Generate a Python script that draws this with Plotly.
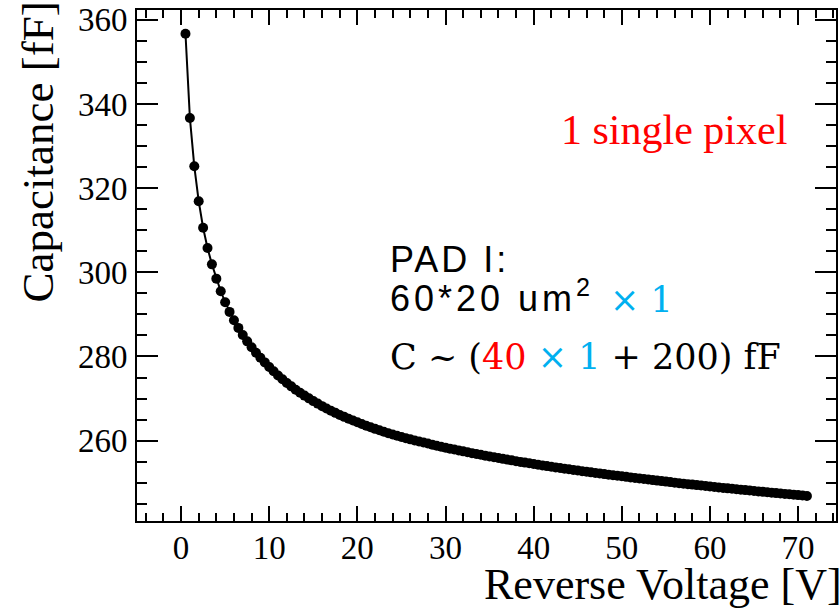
import plotly.graph_objects as go

# Reverse voltage [V] (measurement points)
voltage = [
    0.5, 1.0, 1.5, 2.0, 2.5, 3.0, 3.5, 4.0, 4.5, 5.0, 5.5, 6.0, 6.5, 7.0, 7.5, 8.0,
    8.5, 9.0, 9.5, 10.0, 10.5, 11.0, 11.5, 12.0, 12.5, 13.0, 13.5, 14.0, 14.5, 15.0,
    15.5, 16.0, 16.5, 17.0, 17.5, 18.0, 18.5, 19.0, 19.5, 20.0, 20.5, 21.0, 21.5, 22.0,
    22.5, 23.0, 23.5, 24.0, 24.5, 25.0, 25.5, 26.0, 26.5, 27.0, 27.5, 28.0, 28.5, 29.0,
    29.5, 30.0, 30.5, 31.0, 31.5, 32.0, 32.5, 33.0, 33.5, 34.0, 34.5, 35.0, 35.5, 36.0,
    36.5, 37.0, 37.5, 38.0, 38.5, 39.0, 39.5, 40.0, 40.5, 41.0, 41.5, 42.0, 42.5, 43.0,
    43.5, 44.0, 44.5, 45.0, 45.5, 46.0, 46.5, 47.0, 47.5, 48.0, 48.5, 49.0, 49.5, 50.0,
    50.5, 51.0, 51.5, 52.0, 52.5, 53.0, 53.5, 54.0, 54.5, 55.0, 55.5, 56.0, 56.5, 57.0,
    57.5, 58.0, 58.5, 59.0, 59.5, 60.0, 60.5, 61.0, 61.5, 62.0, 62.5, 63.0, 63.5, 64.0,
    64.5, 65.0, 65.5, 66.0, 66.5, 67.0, 67.5, 68.0, 68.5, 69.0, 69.5, 70.0, 70.5, 71.0,
]

# Capacitance [fF]
capacitance = [
    356.7, 336.7, 325.2, 316.9, 310.6, 305.8, 301.9, 298.5, 295.5, 292.9, 290.6, 288.6,
    286.8, 285.1, 283.6, 282.2, 280.9, 279.7, 278.6, 277.5, 276.5, 275.5, 274.6, 273.7,
    272.9, 272.1, 271.4, 270.7, 270.05, 269.4, 268.8, 268.2, 267.65, 267.1, 266.6, 266.1,
    265.65, 265.2, 264.77, 264.35, 263.95, 263.55, 263.17, 262.8, 262.45, 262.1, 261.77,
    261.45, 261.15, 260.85, 260.57, 260.3, 260.05, 259.8, 259.55, 259.3, 259.05, 258.8,
    258.56, 258.33, 258.1, 257.88, 257.66, 257.45, 257.24, 257.03, 256.83, 256.63, 256.43,
    256.24, 256.05, 255.86, 255.67, 255.49, 255.31, 255.13, 254.95, 254.78, 254.61, 254.44,
    254.27, 254.11, 253.95, 253.79, 253.63, 253.48, 253.33, 253.18, 253.03, 252.89, 252.74,
    252.6, 252.46, 252.32, 252.18, 252.05, 251.91, 251.78, 251.65, 251.52, 251.39, 251.26,
    251.13, 251.0, 250.87, 250.75, 250.62, 250.5, 250.38, 250.26, 250.14, 250.02, 249.9,
    249.78, 249.66, 249.55, 249.43, 249.32, 249.21, 249.1, 248.99, 248.88, 248.77, 248.66,
    248.55, 248.45, 248.34, 248.24, 248.13, 248.03, 247.93, 247.83, 247.73, 247.63, 247.53,
    247.43, 247.33, 247.24, 247.14, 247.05, 246.95, 246.86,
]

x_ticks = [0, 10, 20, 30, 40, 50, 60, 70]
y_ticks = [260, 280, 300, 320, 340, 360]

x_title = "Reverse Voltage [V]"
y_title = "Capacitance [fF]"
label_pixel = "1 single pixel"
label_pad = "<span style='letter-spacing:3px'>PAD I:</span>"
label_area = "<span style='letter-spacing:4px'>60*20 um</span><sup>2</sup>"
label_mult = "× 1"
label_formula = ("C ~ (<span style='color:#FF0000'>40</span> "
                 "<span style='color:#00B0F0'>× 1</span> + 200) fF")

W, H = 840, 611
ML, MR, MT, MB = 137, 2, 7, 90

serif = "Liberation Serif, Times New Roman, serif"
sans = "Liberation Sans, Arial, sans-serif"
math = "DejaVu Serif, serif"

fig = go.Figure()
fig.add_trace(go.Scatter(
    x=voltage, y=capacitance, mode="lines+markers",
    line=dict(color="black", width=2),
    marker=dict(color="black", size=10),
    showlegend=False,
))

axis_common = dict(
    showline=True, linecolor="black", linewidth=2, mirror="allticks",
    ticks="inside", tickcolor="black", tickwidth=2,
    showgrid=False, zeroline=False, ticklabeloverflow="allow",
    tickfont=dict(family=serif, size=33, color="black"),
)

fig.update_xaxes(
    range=[-5, 74.3], tickvals=x_ticks, ticklen=15,
    minor=dict(ticks="inside", ticklen=8, dtick=2, tickcolor="black", tickwidth=2, showgrid=False),
    ticklabelstandoff=-4,
    **axis_common,
)
fig.update_yaxes(
    range=[240.9, 362.35], tickvals=y_ticks, ticklen=21,
    minor=dict(ticks="inside", ticklen=10, dtick=5, tickcolor="black", tickwidth=2, showgrid=False),
    ticklabelstandoff=1,
    **axis_common,
)

# annotation positions given in screen pixels, converted to paper coordinates
annots = [
    dict(text=x_title, x=665, y=585, font=dict(family=serif, size=44, color="black"),
         xanchor="center", yanchor="middle"),
    dict(text=y_title, x=38, y=150, textangle=-90,
         font=dict(family=serif, size=45, color="black"), xanchor="center", yanchor="middle"),
    dict(text=label_pixel, x=676, y=128, font=dict(family=serif, size=42, color="#FF0000"),
         xanchor="center", yanchor="middle"),
    dict(text=label_pad, x=389, y=258, font=dict(family=sans, size=36, color="black"),
         xanchor="left", yanchor="middle"),
    dict(text=label_area, x=389, y=295, font=dict(family=sans, size=36, color="black"),
         xanchor="left", yanchor="middle"),
    dict(text=label_mult, x=609, y=299, font=dict(family=math, size=35, color="#00B0F0"),
         xanchor="left", yanchor="middle"),
    dict(text=label_formula, x=389, y=356, font=dict(family=math, size=35, color="black"),
         xanchor="left", yanchor="middle"),
]
for a in annots:
    a = dict(a)
    a["x"] = (a["x"] - ML) / (W - ML - MR)
    a["y"] = (H - MB - a["y"]) / (H - MT - MB)
    fig.add_annotation(xref="paper", yref="paper", showarrow=False, **a)

fig.update_layout(
    width=W, height=H,
    margin=dict(l=ML, r=MR, t=MT, b=MB, pad=0),
    plot_bgcolor="white", paper_bgcolor="white",
)

fig.write_html(
    "out.html",
    config={"displayModeBar": False},
    post_script="document.body.style.margin='0px';",
)
